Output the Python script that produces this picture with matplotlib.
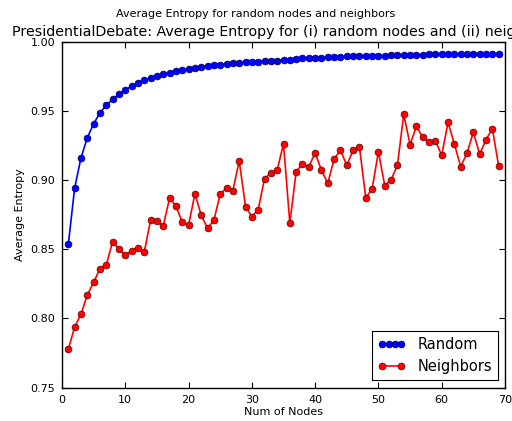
import matplotlib
matplotlib.use("Agg")
import matplotlib.pyplot as plt
from matplotlib.legend_handler import HandlerLine2D

nodes = list(range(1, 70))

random_entropy = [
    0.8536, 0.8942, 0.9160, 0.9305, 0.9406, 0.9486, 0.9540, 0.9583, 0.9619, 0.9650,
    0.9679, 0.9703, 0.9722, 0.9737, 0.9753, 0.9766, 0.9775, 0.9787, 0.9792, 0.9802,
    0.9809, 0.9819, 0.9821, 0.9829, 0.9833, 0.9838, 0.9843, 0.9845, 0.9851, 0.9855,
    0.9855, 0.9860, 0.9863, 0.9863, 0.9867, 0.9867, 0.9874, 0.9879, 0.9879, 0.9881,
    0.9884, 0.9886, 0.9889, 0.9891, 0.9893, 0.9896, 0.9898, 0.9898, 0.9896, 0.9898,
    0.9898, 0.9900, 0.9903, 0.9900, 0.9903, 0.9903, 0.9903, 0.9908, 0.9908, 0.9908,
    0.9908, 0.9908, 0.9908, 0.9910, 0.9913, 0.9913, 0.9913, 0.9913, 0.9913,
]

neighbor_entropy = [
    0.7777, 0.7938, 0.8030, 0.8170, 0.8260, 0.8360, 0.8386, 0.8555, 0.8500, 0.8457,
    0.8490, 0.8510, 0.8480, 0.8710, 0.8705, 0.8668, 0.8870, 0.8813, 0.8695, 0.8673,
    0.8900, 0.8746, 0.8650, 0.8710, 0.8898, 0.8943, 0.8922, 0.9138, 0.8808, 0.8736,
    0.8786, 0.9010, 0.9050, 0.9070, 0.9262, 0.8688, 0.9060, 0.9116, 0.9094, 0.9197,
    0.9070, 0.8976, 0.9152, 0.9215, 0.9106, 0.9215, 0.9240, 0.8872, 0.8935, 0.9205,
    0.8959, 0.9002, 0.9106, 0.9475, 0.9255, 0.9388, 0.9309, 0.9273, 0.9282, 0.9179,
    0.9417, 0.9260, 0.9096, 0.9195, 0.9345, 0.9186, 0.9291, 0.9371, 0.9101,
]

xticks = [0, 10, 20, 30, 40, 50, 60, 70]
yticks = [0.75, 0.80, 0.85, 0.90, 0.95, 1.00]

fig = plt.figure(figsize=(5.12, 4.21), dpi=100)
ax = fig.add_axes([62 / 512, 1 - 387.6 / 421, (505 - 62) / 512, (387.6 - 41.6) / 421])

l1, = ax.plot(nodes, random_entropy, color='blue', marker='o', markersize=5,
              markeredgecolor='#000033', markeredgewidth=0.4, linewidth=1.2, label='Random')
l2, = ax.plot(nodes, neighbor_entropy, color='red', marker='o', markersize=5,
              markeredgecolor='#330000', markeredgewidth=0.4, linewidth=1.2, label='Neighbors')

ax.set_xlim(0, 70)
ax.set_ylim(0.75, 1.00)
ax.set_xticks(xticks)
ax.set_yticks(yticks)
ax.set_yticklabels([f"{v:.2f}" for v in yticks])
ax.tick_params(direction='in', top=True, right=True, labelsize=8, length=4, pad=5)
for s in ax.spines.values():
    s.set_linewidth(1.0)

ax.set_xlabel('Num of Nodes', fontsize=8, labelpad=2)
ax.set_ylabel('Average Entropy', fontsize=8, labelpad=4)
ax.set_title('PresidentialDebate: Average Entropy for (i) random nodes and (ii) neighbors',
             fontsize=10.3, pad=4)
fig.suptitle('Average Entropy for random nodes and neighbors', fontsize=8, y=0.978)

leg = ax.legend(loc='lower right', fontsize=10.5, fancybox=False, framealpha=1,
                edgecolor='black', borderaxespad=0.5, handlelength=1.9,
                handler_map={l1: HandlerLine2D(numpoints=4), l2: HandlerLine2D(numpoints=2)})
leg.get_frame().set_linewidth(0.8)

fig.savefig('out.png', dpi=100)
